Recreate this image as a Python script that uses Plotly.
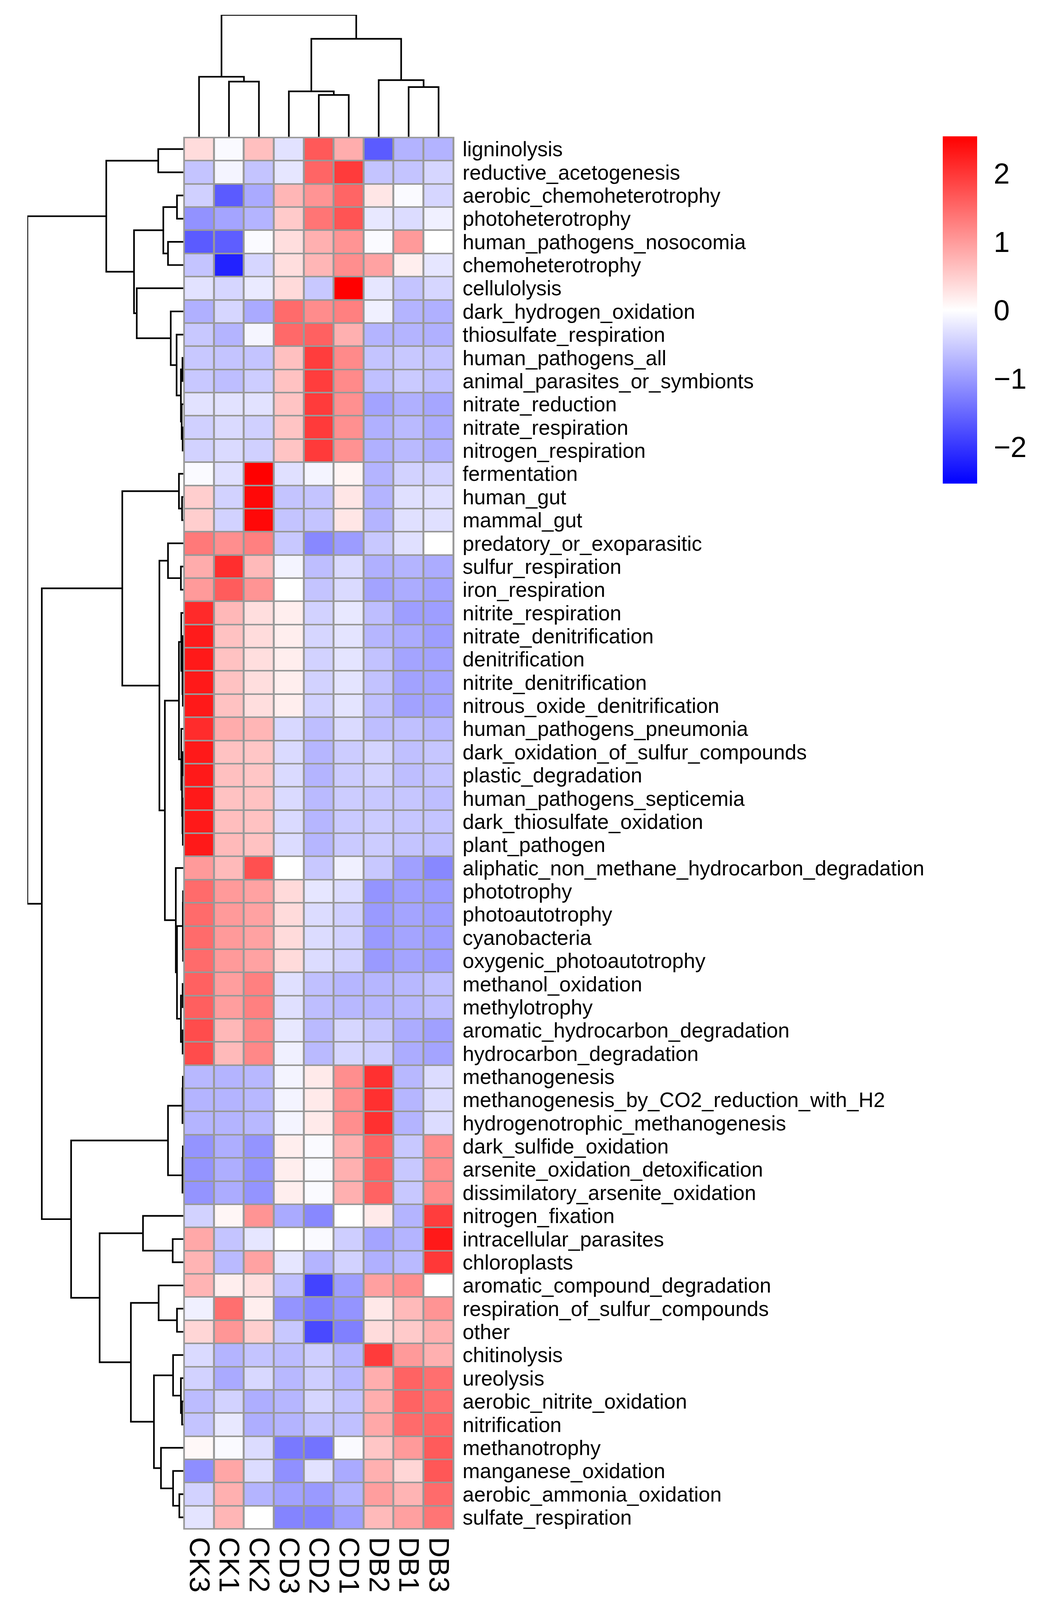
import plotly.graph_objects as go

# ---------------- data ----------------
columns = ["CK3", "CK1", "CK2", "CD3", "CD2", "CD1", "DB2", "DB1", "DB3"]

rows = [
    "ligninolysis", "reductive_acetogenesis", "aerobic_chemoheterotrophy", "photoheterotrophy",
    "human_pathogens_nosocomia", "chemoheterotrophy", "cellulolysis", "dark_hydrogen_oxidation",
    "thiosulfate_respiration", "human_pathogens_all", "animal_parasites_or_symbionts",
    "nitrate_reduction", "nitrate_respiration", "nitrogen_respiration", "fermentation",
    "human_gut", "mammal_gut", "predatory_or_exoparasitic", "sulfur_respiration",
    "iron_respiration", "nitrite_respiration", "nitrate_denitrification", "denitrification",
    "nitrite_denitrification", "nitrous_oxide_denitrification", "human_pathogens_pneumonia",
    "dark_oxidation_of_sulfur_compounds", "plastic_degradation", "human_pathogens_septicemia",
    "dark_thiosulfate_oxidation", "plant_pathogen", "aliphatic_non_methane_hydrocarbon_degradation",
    "phototrophy", "photoautotrophy", "cyanobacteria", "oxygenic_photoautotrophy",
    "methanol_oxidation", "methylotrophy", "aromatic_hydrocarbon_degradation",
    "hydrocarbon_degradation", "methanogenesis", "methanogenesis_by_CO2_reduction_with_H2",
    "hydrogenotrophic_methanogenesis", "dark_sulfide_oxidation", "arsenite_oxidation_detoxification",
    "dissimilatory_arsenite_oxidation", "nitrogen_fixation", "intracellular_parasites",
    "chloroplasts", "aromatic_compound_degradation", "respiration_of_sulfur_compounds", "other",
    "chitinolysis", "ureolysis", "aerobic_nitrite_oxidation", "nitrification", "methanotrophy",
    "manganese_oxidation", "aerobic_ammonia_oxidation", "sulfate_respiration",
]

CK3 = [0.35, -0.59, -0.47, -1.09, -1.63, -0.59, -0.29, -0.79, -0.55, -0.55,
       -0.55, -0.29, -0.47, -0.45, -0.05, 0.49, 0.49, 1.33, 0.83, 1.01,
       2.12, 2.27, 2.29, 2.29, 2.29, 2.10, 2.29, 2.29, 2.29, 2.29,
       2.29, 1.01, 1.47, 1.47, 1.47, 1.47, 1.57, 1.59, 1.78, 1.78,
       -0.71, -0.75, -0.75, -1.07, -1.07, -1.07, -0.45, 0.87, 0.75, 0.75,
       -0.15, 0.41, -0.37, -0.45, -0.67, -0.59, 0.07, -1.13, -0.45, -0.27]
CK1 = [-0.05, -0.11, -1.63, -0.91, -1.60, -2.20, -0.41, -0.41, -0.75, -0.59,
       -0.65, -0.29, -0.37, -0.37, -0.31, -0.45, -0.45, 1.13, 2.08, 1.62,
       0.71, 0.61, 0.61, 0.61, 0.61, 0.83, 0.61, 0.63, 0.61, 0.65,
       0.69, 0.69, 1.01, 1.01, 1.01, 1.01, 0.97, 0.97, 0.71, 0.69,
       -0.75, -0.75, -0.75, -0.81, -0.81, -0.83, 0.09, -0.59, -0.69, 0.17,
       1.43, 1.05, -0.75, -0.85, -0.45, -0.23, -0.05, 0.89, 0.79, 0.73]
CK2 = [0.64, -0.59, -0.85, -0.75, -0.05, -0.41, -0.21, -0.85, -0.10, -0.59,
       -0.50, -0.29, -0.47, -0.47, 2.54, 2.46, 2.46, 1.27, 0.69, 1.07,
       0.33, 0.35, 0.33, 0.33, 0.33, 0.73, 0.57, 0.57, 0.61, 0.61,
       0.61, 1.74, 0.93, 0.93, 0.93, 0.93, 1.27, 1.27, 1.19, 1.19,
       -0.71, -0.71, -0.71, -1.07, -1.07, -1.07, 1.07, -0.25, 0.93, 0.33,
       0.17, 0.49, -0.59, -0.39, -0.81, -0.81, -0.35, -0.35, -0.75, 0.0]
CD3 = [-0.29, -0.25, 0.73, 0.53, 0.33, 0.33, 0.37, 1.47, 1.49, 0.63,
       0.61, 0.59, 0.59, 0.59, -0.31, -0.59, -0.59, -0.55, -0.11, 0.0,
       0.17, 0.17, 0.17, 0.17, 0.17, -0.39, -0.37, -0.37, -0.37, -0.37,
       -0.35, 0.0, 0.37, 0.36, 0.36, 0.36, -0.31, -0.31, -0.23, -0.15,
       -0.11, -0.11, -0.11, 0.17, 0.17, 0.17, -0.85, 0.0, -0.25, -0.63,
       -1.07, -0.55, -0.67, -0.71, -0.73, -0.75, -1.33, -1.11, -0.93, -1.23]
CD2 = [1.65, 1.53, 1.07, 1.37, 0.79, 0.73, -0.55, 1.15, 1.57, 1.93,
       1.93, 1.95, 1.96, 1.96, -0.11, -0.59, -0.59, -1.19, -0.65, -0.59,
       -0.45, -0.41, -0.45, -0.45, -0.45, -0.65, -0.73, -0.75, -0.69, -0.73,
       -0.73, -0.55, -0.25, -0.35, -0.35, -0.35, -0.63, -0.65, -0.69, -0.69,
       0.21, 0.21, 0.21, -0.05, -0.05, -0.05, -1.19, -0.05, -0.75, -1.87,
       -1.25, -1.81, -0.49, -0.49, -0.41, -0.59, -1.39, -0.29, -1.01, -1.23]
CD1 = [0.82, 1.95, 1.53, 1.70, 1.07, 1.13, 2.54, 1.27, 0.79, 1.17,
       1.17, 1.11, 1.11, 1.09, 0.11, 0.25, 0.25, -0.99, -0.37, -0.37,
       -0.23, -0.27, -0.27, -0.27, -0.27, -0.37, -0.51, -0.51, -0.51, -0.53,
       -0.53, -0.15, -0.35, -0.47, -0.45, -0.45, -0.73, -0.71, -0.41, -0.41,
       1.13, 1.13, 1.13, 0.79, 0.79, 0.79, 0.0, -0.49, -0.45, -0.97,
       -1.07, -1.27, -0.73, -0.71, -0.59, -0.63, -0.05, -0.85, -0.75, -0.95]
DB2 = [-1.63, -0.59, 0.25, -0.23, -0.05, 0.93, -0.25, -0.15, -0.75, -0.59,
       -0.63, -0.92, -0.79, -0.79, -0.75, -0.75, -0.75, -0.55, -0.79, -0.92,
       -0.65, -0.73, -0.61, -0.61, -0.63, -0.65, -0.43, -0.45, -0.55, -0.51,
       -0.51, -0.55, -1.07, -1.01, -1.01, -1.01, -0.73, -0.73, -0.55, -0.49,
       2.06, 2.06, 2.06, 1.55, 1.55, 1.55, 0.21, -0.91, -0.79, 0.95,
       0.23, 0.35, 1.95, 0.81, 0.81, 0.87, 0.57, 0.79, 0.97, 0.69]
DB1 = [-0.76, -0.59, -0.05, -0.35, 1.01, 0.17, -0.59, -0.75, -0.75, -0.55,
       -0.53, -0.79, -0.69, -0.69, -0.45, -0.31, -0.31, -0.31, -0.75, -0.83,
       -0.97, -0.83, -0.91, -0.93, -0.93, -0.63, -0.63, -0.65, -0.57, -0.57,
       -0.59, -0.95, -0.95, -0.91, -0.91, -0.91, -0.71, -0.71, -0.83, -0.83,
       -0.71, -0.73, -0.75, -0.55, -0.55, -0.55, -0.75, -0.75, -0.69, 1.13,
       0.69, 0.53, 1.01, 1.55, 1.55, 1.47, 1.01, 0.41, 0.75, 0.95]
DB3 = [-0.76, -0.41, -0.41, -0.15, 0.0, -0.25, -0.41, -0.79, -0.79, -0.59,
       -0.63, -0.89, -0.83, -0.79, -0.45, -0.31, -0.31, 0.0, -0.83, -0.92,
       -0.97, -0.97, -0.93, -0.91, -0.91, -0.71, -0.57, -0.59, -0.65, -0.59,
       -0.63, -1.19, -0.99, -0.97, -0.97, -0.97, -0.63, -0.65, -0.95, -0.91,
       -0.35, -0.35, -0.35, 1.15, 1.15, 1.15, 1.93, 2.29, 1.98, 0.0,
       1.07, 0.79, 0.79, 1.43, 1.43, 1.51, 1.63, 1.67, 1.47, 1.37]

colorbar_ticks = [-2, -1, 0, 1, 2]

# dendrograms: (merge_height, left, right); ints are leaf indices (row / column order)
row_tree_A = (197, (64, 0, 1),
              (126, (51, (16, 2, 3), (39, 4, 5)),
                    (119, 6, (32, 7, (17, 8, (6, (2, 9, 10), (4, 11, (1.5, 12, 13))))))))
row_tree_B1 = (156, (11, 14, (3, 15, 16)),
               (61, (39, 17, (6, 18, 19)),
                    (47, (11, (5, 20, (2, (1, 21, 22), (1, 23, 24))),
                              (5, 25, (3, (1.5, 26, 27), (2, 28, (1, 29, 30))))),
                         (19, 31, (16, (1, (0.5, 32, 33), (0.5, 34, 35)),
                                       (6, (1.5, 36, 37), (1.5, 38, 39)))))))
row_tree_B2 = (287, (39, (2, (1, 40, 41), 42), (2, (1, 43, 44), 45)),
               (214, (103, 46, (27, 47, 48)),
                     (134, (63, 49, (16, 50, 51)),
                           (75, (26, 52, (6, 53, (3, 54, 55))),
                                (57, 56, (26, 57, (10, 58, 59)))))))
row_tree = (399, row_tree_A, (362, row_tree_B1, row_tree_B2))

col_tree = (402, (198, 0, (182, 1, 2)),
            (323, (150, 3, (138, 4, 5)), (187, 6, (164, 7, 8))))

# ---------------- helpers ----------------
def dendro_segments(node):
    if isinstance(node, int):
        return float(node), 0.0, [], []
    h, left, right = node
    pl, hl, pa, ha = dendro_segments(left)
    pr, hr, pb, hb = dendro_segments(right)
    pos = pa + pb + [pl, pl, pr, pr, None]
    hts = ha + hb + [hl, h, h, hr, None]
    return (pl + pr) / 2.0, h, pos, hts


# reference frame (pixels) used for relative placement
W, H = 2667, 5273
# the browser viewport is 2667 x 4096, so the page is drawn to that height
VIEW_H = 4096
FONT = "Liberation Sans, Arial, Helvetica, sans-serif"

HM_L, HM_R, HM_T, HM_B = 469, 1163, 451, 5041
RD_L = 70
CD_T = 49
CB_L, CB_W, CB_T, CB_B = 2413, 88, 450, 1594

series = [CK3, CK1, CK2, CD3, CD2, CD1, DB2, DB1, DB3]
z = [[s[i] for s in series] for i in range(len(rows))]

fig = go.Figure()

fig.add_trace(go.Heatmap(
    z=z, x=list(range(len(columns))), y=list(range(len(rows))),
    xaxis="x", yaxis="y",
    colorscale=[[0, "#0000FF"], [0.5, "#FFFFFF"], [1, "#FF0000"]],
    zmin=-2.54, zmax=2.54, xgap=5, ygap=4, hoverinfo="skip",
    colorbar=dict(
        x=CB_L / W, xanchor="left", xpad=0, ypad=0,
        y=1 - (CB_T + CB_B) / 2 / H, yanchor="middle",
        len=(CB_B - CB_T) / H, lenmode="fraction",
        thickness=CB_W, thicknessmode="pixels", outlinewidth=0,
        tickvals=colorbar_ticks, ticks="outside", ticklen=28,
        tickcolor="rgba(0,0,0,0)",
        tickfont=dict(family=FONT, size=74, color="black"),
    ),
))

_, _, rpos, rht = dendro_segments(row_tree)
fig.add_trace(go.Scatter(x=rht, y=rpos, mode="lines", xaxis="x2", yaxis="y",
                         line=dict(color="black", width=4.2), hoverinfo="skip",
                         cliponaxis=False, showlegend=False))

_, _, cpos, cht = dendro_segments(col_tree)
fig.add_trace(go.Scatter(x=cpos, y=cht, mode="lines", xaxis="x", yaxis="y3",
                         line=dict(color="black", width=4.2), hoverinfo="skip",
                         cliponaxis=False, showlegend=False))

pad = 0.028
fig.update_layout(
    width=W, height=VIEW_H, template="none",
    margin=dict(l=0, r=0, t=0, b=0, pad=0),
    paper_bgcolor="white", plot_bgcolor="rgba(0,0,0,0)",
    showlegend=False,
    font=dict(family=FONT, color="black"),
    xaxis=dict(domain=[HM_L / W, HM_R / W], range=[-0.5 - pad, len(columns) - 0.5 + pad],
               anchor="y", side="bottom", tickmode="array",
               tickvals=list(range(len(columns))), ticktext=columns,
               tickangle=90, tickfont=dict(family=FONT, size=73, color="black"),
               ticks="", ticklabelstandoff=18, showgrid=False, zeroline=False,
               showline=False, automargin=False, fixedrange=True),
    yaxis=dict(domain=[1 - HM_B / H, 1 - HM_T / H], range=[len(rows) - 0.5 + pad, -0.5 - pad],
               anchor="x", side="right", tickmode="array",
               tickvals=list(range(len(rows))), ticktext=rows,
               tickfont=dict(family=FONT, size=53, color="black"),
               ticks="", ticklabelstandoff=20, showgrid=False, zeroline=False,
               showline=False, automargin=False, fixedrange=True),
    xaxis2=dict(domain=[RD_L / W, HM_L / W], range=[row_tree[0], 0], anchor="y",
                visible=False, fixedrange=True),
    yaxis3=dict(domain=[1 - HM_T / H, 1 - CD_T / H], range=[0, col_tree[0]], anchor="x",
                visible=False, fixedrange=True),
    shapes=[dict(type="rect", xref="x domain", yref="y domain", x0=0, x1=1, y0=0, y1=1,
                 fillcolor="#999999", line=dict(width=0), layer="below")],
)

fig.write_html("out.html", config={"displayModeBar": False},
               post_script="document.body.style.margin = '0';")
